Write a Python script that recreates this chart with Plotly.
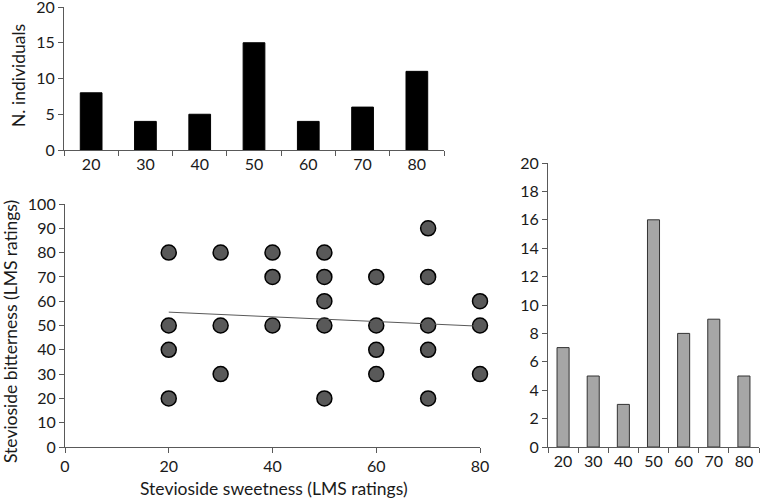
import plotly.graph_objects as go

categories = ["20", "30", "40", "50", "60", "70", "80"]
sweet_counts = [8, 4, 5, 15, 4, 6, 11]
bitter_counts = [7, 5, 3, 16, 8, 9, 5]

sweetness = [20, 20, 20, 20, 30, 30, 30, 40, 40, 40, 50, 50, 50, 50, 50,
             60, 60, 60, 60, 70, 70, 70, 70, 70, 80, 80, 80]
bitterness = [80, 50, 40, 20, 80, 50, 30, 80, 70, 50, 80, 70, 60, 50, 20,
              70, 50, 40, 30, 90, 70, 50, 40, 20, 60, 50, 30]
trend_x = [20, 80]
trend_y = [55.5, 49.7]

W, H = 761, 499
def px(x): return x / W
def py(y): return 1 - y / H

FONT = "Lato"
AX = "#595959"
TXT = "#1a1a1a"

fig = go.Figure()
fig.add_trace(go.Bar(x=categories, y=sweet_counts, xaxis="x", yaxis="y",
                     marker=dict(color="black", line=dict(color="black", width=1))))
fig.add_trace(go.Scatter(x=sweetness, y=bitterness, mode="markers", xaxis="x2", yaxis="y2",
                         cliponaxis=False,
                         marker=dict(size=15, color="#595959", line=dict(color="black", width=1.5))))
fig.add_trace(go.Scatter(x=trend_x, y=trend_y, mode="lines", xaxis="x2", yaxis="y2",
                         line=dict(color="#595959", width=1)))
fig.add_trace(go.Bar(x=categories, y=bitter_counts, xaxis="x3", yaxis="y3",
                     marker=dict(color="#a6a6a6", line=dict(color="#333333", width=1))))

common = dict(showline=True, linecolor=AX, linewidth=1.2, ticks="outside", ticklen=5,
              tickcolor=AX, showgrid=False, zeroline=False, automargin=False,
              ticklabeloverflow="allow",
              tickfont=dict(family=FONT, size=16, color=TXT))

title_font = dict(family=FONT, size=17.5, color=TXT)

fig.update_layout(
    width=W, height=H, margin=dict(l=0, r=0, t=0, b=0),
    paper_bgcolor="white", plot_bgcolor="white", showlegend=False, bargap=0.6,
    font=dict(family=FONT, color=TXT),
    xaxis=dict(domain=[px(64), px(444)], type="category", tickson="boundaries",
               anchor="y", **common),
    yaxis=dict(domain=[py(150), py(7)], range=[0, 20], tickvals=[0, 5, 10, 15, 20],
               anchor="x", **common),
    xaxis2=dict(domain=[px(65), px(480)], range=[0, 80], tickvals=[0, 20, 40, 60, 80],
                anchor="y2", **common),
    yaxis2=dict(domain=[py(447), py(204)], range=[0, 100], tickvals=list(range(0, 101, 10)),
                anchor="x2", **common),
    xaxis3=dict(domain=[px(548), px(759)], type="category", tickson="boundaries",
                anchor="y3", **common),
    yaxis3=dict(domain=[py(447), py(163)], range=[0, 20], tickvals=list(range(0, 21, 2)),
                anchor="x3", **common),
    annotations=[
        dict(text="N. individuals", x=px(18), y=py(76), xref="paper", yref="paper",
             xanchor="center", yanchor="middle",
             textangle=-90, showarrow=False, font=title_font),
        dict(text="Stevioside bitterness (LMS ratings)", x=px(10), y=py(332), xref="paper",
             yref="paper", xanchor="center", yanchor="middle", textangle=-90,
             showarrow=False, font=title_font),
        dict(text="Stevioside sweetness (LMS ratings)", x=px(274), y=py(488), xref="paper",
             yref="paper", xanchor="center", yanchor="middle", showarrow=False,
             font=title_font),
    ],
)

fig.write_html("out.html", config={"displayModeBar": False},
               post_script="document.body.style.margin='0';document.body.style.overflow='hidden';")
